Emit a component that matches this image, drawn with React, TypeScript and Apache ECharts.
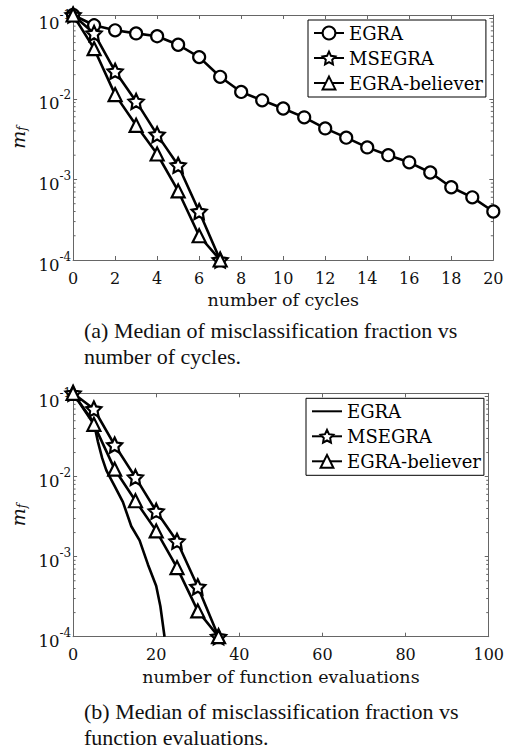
import React, { useEffect, useRef } from 'react';
import * as echarts from 'echarts';

// ---------- data ----------
const cycles = [0, 1, 2, 3, 4, 5, 6, 7, 8, 9, 10, 11, 12, 13, 14, 15, 16, 17, 18, 19, 20];
const egraByCycle = [0.11, 0.082, 0.071, 0.065, 0.06, 0.047, 0.033, 0.0188, 0.0122, 0.0096, 0.0076,
  0.0059, 0.0043, 0.0033, 0.0025, 0.002, 0.00163, 0.00122, 0.0008, 0.0006, 0.0004];
const shortCycles = [0, 1, 2, 3, 4, 5, 6, 7];
const msegraByCycle = [0.11, 0.065, 0.022, 0.0093, 0.0036, 0.0015, 0.0004, 0.0001];
const believerByCycle = [0.11, 0.042, 0.0113, 0.0047, 0.00207, 0.00072, 0.0002, 0.0001];

const fevals = [0, 5, 10, 15, 20, 25, 30, 35];
const msegraByFeval = [0.11, 0.07, 0.0248, 0.0098, 0.0037, 0.00156, 0.00042, 0.0001];
const believerByFeval = [0.11, 0.045, 0.0124, 0.005, 0.0021, 0.00073, 0.00021, 0.0001];
const egraFevals = [0, 5, 6, 7, 8, 10, 12, 14, 16, 18, 20, 21, 22];
const egraByFeval = [0.11, 0.047, 0.027, 0.017, 0.012, 0.0076, 0.0048, 0.0024, 0.0016, 0.0008, 0.00043, 0.00024, 0.0001];

const seriesNames = ['EGRA', 'MSEGRA', 'EGRA-believer'];
const yLimits = [1e-4, 0.11];
const cycleLimits = [0, 20];
const fevalLimits = [0, 100];
const minorTickValues = [
  2e-4, 3e-4, 4e-4, 5e-4, 6e-4, 7e-4, 8e-4, 9e-4,
  2e-3, 3e-3, 4e-3, 5e-3, 6e-3, 7e-3, 8e-3, 9e-3,
  2e-2, 3e-2, 4e-2, 5e-2, 6e-2, 7e-2, 8e-2, 9e-2,
];
const captionA = ['(a) Median of misclassification fraction vs', 'number of cycles.'];
const captionB = ['(b) Median of misclassification fraction vs', 'function evaluations.'];

// ---------- styles ----------
const SERIF = 'DejaVu Serif';
const AXIS = '#666';
const INK = '#111';
const STAR = 'path://M0,-10 L2.939,-4.045 L9.511,-3.09 L4.755,1.545 L5.878,8.09 L0,5 L-5.878,8.09 L-4.755,1.545 L-9.511,-3.09 L-2.939,-4.045 Z';

const zip = (xs: number[], ys: number[]) => xs.map((x, i) => [x, ys[i]]);

const yLabelFormatter = (v: number) => {
  const e = Math.round(Math.log10(v));
  if (Math.abs(v / Math.pow(10, e) - 1) > 1e-6) return '';
  return `{b|10}{s|${e}}`;
};

function lineSeries(name: string, data: number[][], symbol: string, size: number) {
  return {
    type: 'line',
    name,
    data,
    symbol,
    symbolSize: size,
    showSymbol: symbol !== 'none',
    clip: false,
    silent: true,
    z: 3,
    lineStyle: { color: '#000', width: 2.6 },
    itemStyle: { color: '#fff', borderColor: '#000', borderWidth: 2.2 },
    emphasis: { disabled: true },
  };
}

function minorTickSeries(xLim: number[]) {
  return {
    type: 'custom',
    silent: true,
    z: 1,
    data: minorTickValues.map((v) => [xLim[0], v]),
    encode: { x: 0, y: 1 },
    renderItem: (_p: any, api: any) => {
      const v = api.value(1);
      const l = api.coord([xLim[0], v]);
      const r = api.coord([xLim[1], v]);
      const st = { stroke: AXIS, lineWidth: 1 };
      return {
        type: 'group',
        children: [
          { type: 'line', shape: { x1: l[0], y1: l[1], x2: l[0] + 2.5, y2: l[1] }, style: st },
          { type: 'line', shape: { x1: r[0] - 2.5, y1: r[1], x2: r[0], y2: r[1] }, style: st },
        ],
      };
    },
  };
}

function buildOption(cfg: {
  grid: any; xLim: number[]; xInterval: number; xName: string; xNameGap: number; yNameGap: number;
  legend: any; series: any[]; caption: string[]; capY: number[];
}) {
  const axisLine = { show: true, onZero: false, lineStyle: { color: AXIS, width: 1 } };
  const tick = { show: true, inside: true, length: 4, lineStyle: { color: AXIS, width: 1 } };
  return {
    animation: false,
    backgroundColor: '#fff',
    grid: cfg.grid,
    legend: cfg.legend,
    xAxis: [
      {
        type: 'value', min: cfg.xLim[0], max: cfg.xLim[1], interval: cfg.xInterval, position: 'bottom',
        axisLine, axisTick: tick, splitLine: { show: false },
        axisLabel: { margin: 10, fontFamily: SERIF, fontSize: 16, color: INK },
        name: cfg.xName, nameLocation: 'middle', nameGap: cfg.xNameGap,
        nameTextStyle: { fontFamily: SERIF, fontSize: 17.5, color: INK },
      },
      {
        type: 'value', min: cfg.xLim[0], max: cfg.xLim[1], interval: cfg.xInterval, position: 'top',
        axisLine, axisTick: tick, splitLine: { show: false }, axisLabel: { show: false },
      },
    ],
    yAxis: [
      {
        type: 'log', logBase: 10, min: yLimits[0], max: yLimits[1], position: 'left',
        axisLine, axisTick: tick, splitLine: { show: false }, minorTick: { show: false },
        axisLabel: {
          margin: 2, formatter: yLabelFormatter, color: INK, fontFamily: SERIF, fontSize: 16,
          rich: {
            b: { fontFamily: SERIF, fontSize: 16.5, padding: [10, 0, 0, 0], color: INK },
            s: { fontFamily: SERIF, fontSize: 12, padding: [4, 0, 0, 0], verticalAlign: 'top', color: INK },
          },
        },
        name: '{m|m}{f|f}', nameLocation: 'middle', nameGap: cfg.yNameGap, nameRotate: 90,
        nameTextStyle: {
          rich: {
            m: { fontFamily: SERIF, fontStyle: 'italic', fontSize: 19, color: INK },
            f: { fontFamily: SERIF, fontStyle: 'italic', fontSize: 12, padding: [8, 0, 0, 0], verticalAlign: 'bottom', color: INK },
          },
        },
      },
      {
        type: 'log', logBase: 10, min: yLimits[0], max: yLimits[1], position: 'right',
        axisLine, axisTick: tick, splitLine: { show: false }, axisLabel: { show: false },
      },
    ],
    graphic: cfg.caption.map((t, i) => ({
      type: 'text', left: 84, top: cfg.capY[i] - 12, silent: true,
      style: { text: t, font: '22px "Liberation Serif"', fill: '#111' },
    })),
    series: [...cfg.series, minorTickSeries(cfg.xLim)],
  };
}

function legendCfg(top: number, left: number, lineOnlyFirst: boolean) {
  return {
    orient: 'vertical', left, top, padding: [3, 3, 4, 5], itemGap: 5, itemWidth: 30, itemHeight: 16,
    borderColor: '#000', borderWidth: 1, backgroundColor: '#fff', selectedMode: false,
    textStyle: { fontFamily: SERIF, fontSize: 18, color: '#000', lineHeight: 20 },
    data: seriesNames.map((n, i) =>
      i === 0 && lineOnlyFirst ? { name: n, itemStyle: { opacity: 0 } } : { name: n }),
  };
}

const optionA = buildOption({
  grid: { left: 68.3, right: 13.7, top: 15, height: 245 },
  xLim: cycleLimits, xInterval: 2, xName: 'number of cycles', xNameGap: 27, yNameGap: 35,
  legend: legendCfg(20, 308, false),
  series: [
    lineSeries(seriesNames[0], zip(cycles, egraByCycle), 'circle', 12),
    lineSeries(seriesNames[1], zip(shortCycles, msegraByCycle), STAR, 15),
    lineSeries(seriesNames[2], zip(shortCycles, believerByCycle), 'triangle', 13),
  ],
  caption: captionA, capY: [331, 357],
});

const optionB = buildOption({
  grid: { left: 66.7, right: 16.3, top: 18.3, height: 243.4 },
  xLim: fevalLimits, xInterval: 20, xName: 'number of function evaluations', xNameGap: 29, yNameGap: 37,
  legend: legendCfg(23.3, 306, true),
  series: [
    lineSeries(seriesNames[0], zip(egraFevals, egraByFeval), 'none', 0),
    lineSeries(seriesNames[1], zip(fevals, msegraByFeval), STAR, 15),
    lineSeries(seriesNames[2], zip(fevals, believerByFeval), 'triangle', 13),
  ],
  caption: captionB, capY: [337, 363],
});

function Chart({ option }: { option: any }) {
  const ref = useRef<HTMLDivElement>(null);
  useEffect(() => {
    if (!ref.current) return;
    const chart = echarts.init(ref.current, undefined, { renderer: 'svg' });
    chart.setOption(option);
    return () => chart.dispose();
  }, [option]);
  return <div ref={ref} style={{ width: 507, height: 375 }} />;
}

export default function App() {
  useEffect(() => {
    document.body.style.margin = '0';
  }, []);
  return (
    <div style={{ width: 507, height: 750, background: '#fff' }}>
      <Chart option={optionA} />
      <Chart option={optionB} />
    </div>
  );
}
